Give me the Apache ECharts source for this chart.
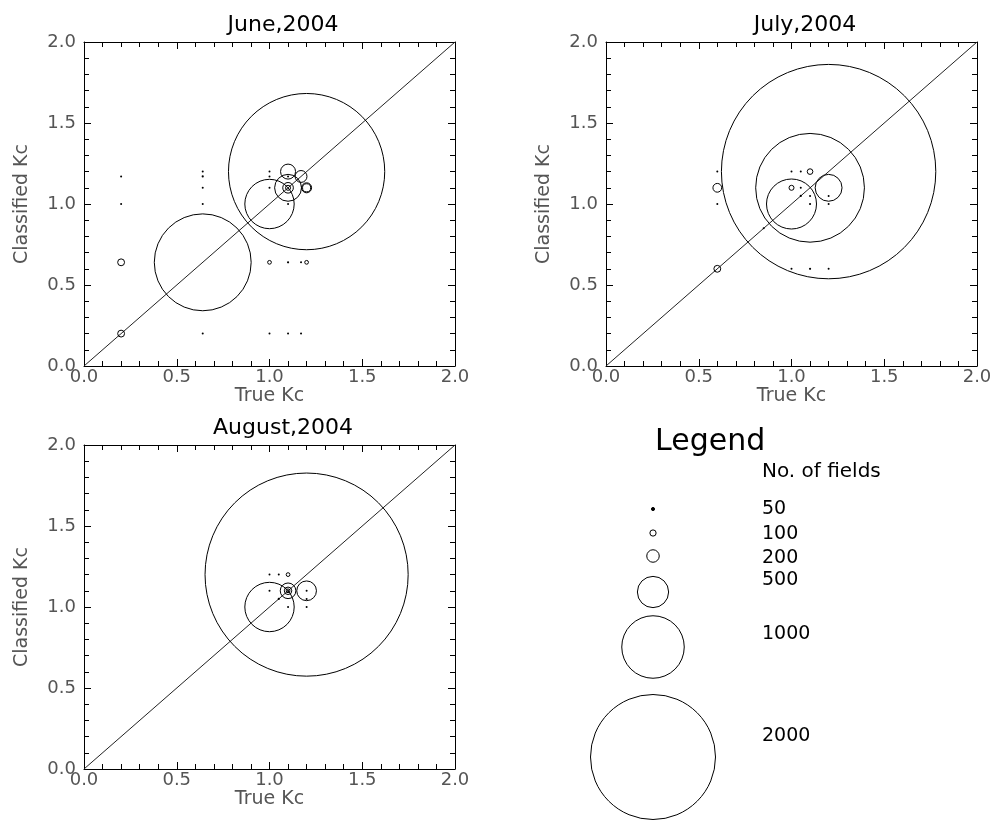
<!DOCTYPE html>
<html>
<head>
<meta charset="utf-8">
<script src="https://cdn.jsdelivr.net/npm/echarts@6/dist/echarts.min.js"></script>
<style>
html,body{margin:0;padding:0;background:#fff;}
#chart{width:995px;height:822px;}
</style>
</head>
<body>
<div id="chart"></div>
<script>
// ---------------- DATA ----------------
const panelTitles = ['June,2004', 'July,2004', 'August,2004'];
const xAxisName = 'True Kc';
const yAxisName = 'Classified Kc';
const axisTicks = [0.0, 0.5, 1.0, 1.5, 2.0];
const oneToOne = [0, 2];

// June, 2004: true Kc, classified Kc, number of fields
const juneTrue  = [1.2, 0.64, 1.0, 1.1, 1.1, 1.17, 1.1, 1.2, 1.2, 1.1, 0.2, 0.2, 1.0, 1.2, 1.1, 1.17, 0.2, 0.2, 0.64, 0.64, 0.64, 0.64, 0.64, 1.0, 1.1, 1.17, 1.0, 1.0, 1.0, 1.1, 1.1];
const juneClass = [1.2, 0.64, 1.0, 1.1, 1.2, 1.17, 1.1, 1.1, 1.1, 1.1, 0.2, 0.64, 0.64, 0.64, 0.64, 0.64, 1.0, 1.17, 0.2, 1.0, 1.1, 1.17, 1.2, 0.2, 0.2, 0.2, 1.1, 1.17, 1.2, 1.0, 1.17];
const juneN     = [2500, 1550, 790, 430, 240, 190, 170, 160, 130, 80, 110, 110, 60, 60, 35, 30, 20, 30, 30, 30, 20, 35, 20, 20, 25, 30, 20, 20, 20, 25, 30];

// July, 2004
const julyTrue  = [1.2, 1.1, 1.0, 1.2, 0.6, 0.6, 1.0, 1.1, 0.6, 0.6, 1.0, 1.05, 1.05, 1.05, 1.1, 1.1, 1.2, 1.2, 0.85, 1.0, 1.1, 1.2];
const julyClass = [1.2, 1.1, 1.0, 1.1, 1.1, 0.6, 1.1, 1.2, 1.2, 1.0, 1.2, 1.2, 1.05, 1.1, 1.05, 1.0, 1.05, 1.0, 0.85, 0.6, 0.6, 0.6];
const julyN     = [3430, 1740, 800, 430, 140, 110, 80, 90, 25, 20, 20, 20, 35, 20, 20, 35, 20, 20, 25, 20, 35, 25];

// August, 2004
const augTrue  = [1.2, 1.0, 1.2, 1.1, 1.1, 1.1, 1.1, 1.0, 1.05, 1.0, 1.05, 1.1, 1.2, 1.2, 1.2];
const augClass = [1.2, 1.0, 1.1, 1.1, 1.1, 1.1, 1.2, 1.2, 1.2, 1.1, 1.05, 1.0, 1.0, 1.05, 1.1];
const augN     = [3250, 790, 315, 250, 120, 60, 60, 20, 20, 20, 35, 25, 20, 20, 30];

// Legend key
const legendTitle = 'Legend';
const legendSubtitle = 'No. of fields';
const legendCounts = [50, 100, 200, 500, 1000, 2000];

// ---------------- LAYOUT / STYLE ----------------
const FONT = 'DejaVu Sans';
const grids = [
  {left: 84, top: 42, width: 371, height: 324},
  {left: 606, top: 42, width: 371, height: 324},
  {left: 84, top: 445, width: 371, height: 324}
];
const titlePos = [{x: 278, y: 9}, {x: 800, y: 9}, {x: 278, y: 412}];
const legendLayout = {
  titleX: 655, titleY: 442,
  subX: 762, subY: 472,
  circleX: 653, circleY: [509, 533, 556, 592, 647, 757],
  textX: 762, textY: [509, 534, 558, 580, 634, 736]
};
const pxPerField = 1 / 16; // circle diameter in px per field
const dotBelow = 40;       // very small counts drawn as solid dots

const panels = [
  {t: juneTrue, c: juneClass, n: juneN},
  {t: julyTrue, c: julyClass, n: julyN},
  {t: augTrue, c: augClass, n: augN}
];

function sizeOf(n) { return Math.max(2, n * pxPerField); }

const tickStyle = {color: '#000', width: 1};
function makeX(i, pos) {
  const main = pos === 'bottom';
  return {
    type: 'value', gridIndex: i, position: pos,
    min: axisTicks[0], max: axisTicks[axisTicks.length - 1], interval: axisTicks[1] - axisTicks[0],
    axisLine: {show: true, onZero: false, lineStyle: {color: '#000', width: 1}},
    axisTick: {show: true, inside: true, length: 7, lineStyle: tickStyle},
    minorTick: {show: true, splitNumber: 5, length: 5, lineStyle: tickStyle},
    splitLine: {show: false}, minorSplitLine: {show: false},
    axisLabel: {show: main, formatter: v => v.toFixed(1), fontSize: 18, color: '#555', fontFamily: FONT, margin: 2},
    name: main ? xAxisName : '', nameLocation: 'middle', nameGap: 20,
    nameTextStyle: {fontSize: 19, color: '#555', fontFamily: FONT}
  };
}
function makeY(i, pos) {
  const main = pos === 'left';
  return {
    type: 'value', gridIndex: i, position: pos,
    min: axisTicks[0], max: axisTicks[axisTicks.length - 1], interval: axisTicks[1] - axisTicks[0],
    axisLine: {show: true, onZero: false, lineStyle: {color: '#000', width: 1}},
    axisTick: {show: true, inside: true, length: 7, lineStyle: tickStyle},
    minorTick: {show: true, splitNumber: 5, length: 5, lineStyle: tickStyle},
    splitLine: {show: false}, minorSplitLine: {show: false},
    axisLabel: {show: main, formatter: v => v.toFixed(1), fontSize: 18, color: '#555', fontFamily: FONT, margin: 8},
    name: main ? yAxisName : '', nameLocation: 'middle', nameGap: 52,
    nameTextStyle: {fontSize: 19, color: '#555', fontFamily: FONT}
  };
}

const xAxes = [], yAxes = [], series = [];
panels.forEach((p, i) => {
  xAxes.push(makeX(i, 'bottom'), makeX(i, 'top'));
  yAxes.push(makeY(i, 'left'), makeY(i, 'right'));
  series.push({
    type: 'line', xAxisIndex: 2 * i, yAxisIndex: 2 * i,
    data: [[oneToOne[0], oneToOne[0]], [oneToOne[1], oneToOne[1]]],
    symbol: 'none', silent: true, z: 1,
    lineStyle: {color: '#222', width: 1}
  });
  series.push({
    type: 'scatter', xAxisIndex: 2 * i, yAxisIndex: 2 * i,
    data: p.t.map((x, k) => {
      const item = {value: [x, p.c[k], p.n[k]]};
      if (p.n[k] < dotBelow) item.itemStyle = {color: '#000', borderWidth: 0};
      return item;
    }),
    symbol: 'circle',
    symbolSize: v => sizeOf(v[2]),
    itemStyle: {color: 'rgba(0,0,0,0)', borderColor: '#000', borderWidth: 1, opacity: 1},
    z: 2, silent: true
  });
});

const graphics = [];
graphics.push({type: 'text', x: legendLayout.titleX, y: legendLayout.titleY,
  style: {text: legendTitle, font: '30px "' + FONT + '"', fill: '#000', verticalAlign: 'middle'}});
graphics.push({type: 'text', x: legendLayout.subX, y: legendLayout.subY,
  style: {text: legendSubtitle, font: '20px "' + FONT + '"', fill: '#000', verticalAlign: 'middle'}});
legendCounts.forEach((n, k) => {
  graphics.push({type: 'circle', shape: {cx: legendLayout.circleX, cy: legendLayout.circleY[k], r: sizeOf(n) / 2},
    style: {fill: n < dotBelow * 2 ? '#000' : 'none', stroke: '#000', lineWidth: 1}});
  graphics.push({type: 'text', x: legendLayout.textX, y: legendLayout.textY[k],
    style: {text: String(n), font: '19px "' + FONT + '"', fill: '#000', verticalAlign: 'middle'}});
});

const chart = echarts.init(document.getElementById('chart'), null, {renderer: 'canvas'});
chart.setOption({
  animation: false,
  backgroundColor: '#fff',
  title: panelTitles.map((t, i) => ({
    text: t, left: titlePos[i].x, top: titlePos[i].y, textAlign: 'center',
    textStyle: {fontSize: 22, fontWeight: 'normal', color: '#000', fontFamily: FONT}
  })),
  grid: grids,
  xAxis: xAxes,
  yAxis: yAxes,
  series: series,
  graphic: graphics
});
</script>
</body>
</html>
